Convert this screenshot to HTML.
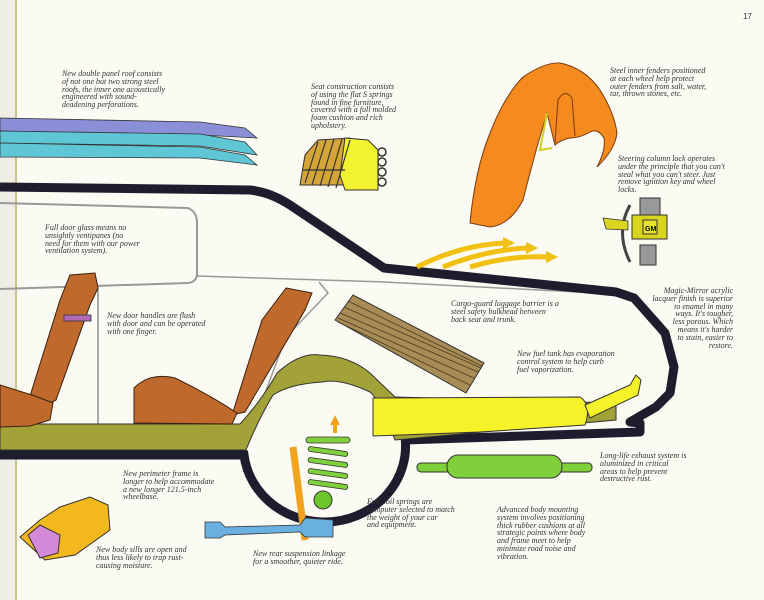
<!DOCTYPE html>
<html><head><meta charset="utf-8"><style>
html,body{margin:0;padding:0;background:#fbfaf3;}
#c{position:relative;width:764px;height:600px;overflow:hidden;background:#fbfaf3;}
.t{position:absolute;font-family:"Liberation Serif",serif;font-style:italic;font-size:8px;line-height:7.8px;color:#333;white-space:nowrap;}
.r{text-align:right;}
</style></head><body><div id="c">
<svg width="764" height="600" style="position:absolute;left:0;top:0">
<rect x="0" y="0" width="15" height="600" fill="#efeee6"/>
<line x1="16" y1="0" x2="16" y2="600" stroke="#c9c48a" stroke-width="2"/>
<polygon points="0,118 200,122 245,128 257,138 200,135 0,131" fill="#8a8fd8" stroke="#333" stroke-width="0.8"/>
<polygon points="0,131 200,134 245,142 257,155 200,146 0,143" fill="#5fc6d6" stroke="#333" stroke-width="0.8"/>
<polygon points="0,143 200,147 245,155 257,165 200,158 0,157" fill="#5fc6d6" stroke="#333" stroke-width="0.8"/>
<polygon points="300,185 305,155 318,140 350,138 352,185" fill="#d4a63a" stroke="#333" stroke-width="1"/>
<polygon points="345,138 368,140 378,150 378,190 345,190 340,175" fill="#f2f230" stroke="#333" stroke-width="1"/>
<g stroke="#333" stroke-width="1.2"><line x1="305" y1="183" x2="318" y2="142"/><line x1="312" y1="185" x2="326" y2="140"/><line x1="320" y1="186" x2="334" y2="139"/><line x1="328" y1="187" x2="342" y2="139"/><line x1="336" y1="188" x2="350" y2="140"/><line x1="303" y1="170" x2="345" y2="170"/></g>
<g fill="none" stroke="#333" stroke-width="1.5"><circle cx="382" cy="152" r="4"/><circle cx="382" cy="162" r="4"/><circle cx="382" cy="172" r="4"/><circle cx="382" cy="182" r="4"/></g>
<path d="M0,203 L188,208 Q197,212 197,222 L197,275 Q196,282 188,283 L0,289" fill="none" stroke="#999" stroke-width="2"/>
<path d="M197,276 L384,282 L616,294" fill="none" stroke="#999" stroke-width="1.5"/>
<path d="M319,282 L328,293 L286,337 L252,428" fill="none" stroke="#999" stroke-width="1.5"/>
<line x1="98" y1="287" x2="98" y2="437" stroke="#333" stroke-width="0.8"/>
<path d="M0,187 L250,190 Q270,192 290,205 L384,268 L616,292 L634,298 L665,333 L674,367 L670,393 L656,407 L630,422 L640,423 L640,432 L405,440" fill="none" stroke="#1d1d2e" stroke-width="9" stroke-linejoin="round"/>
<path d="M0,455 L244,455 A80,75 0 0,0 405,437" fill="none" stroke="#1d1d2e" stroke-width="9"/>
<path d="M0,424 L240,424 Q262,400 277,373 Q300,352 320,355 Q350,356 370,373 L395,397 L616,403 L616,420 L395,440 Q380,400 370,392 Q340,378 322,382 Q290,384 273,395 Q258,420 246,450 L0,450 Z" fill="#a3a238" stroke="#333" stroke-width="1"/>
<polygon points="70,275 95,273 98,288 90,305 56,400 45,406 30,396 60,300" fill="#bf6a2c" stroke="#3a2010" stroke-width="1"/>
<polygon points="0,385 35,396 53,403 50,420 30,426 0,427" fill="#bf6a2c" stroke="#3a2010" stroke-width="1"/>
<rect x="64" y="315" width="27" height="6" fill="#b06ab8" stroke="#333" stroke-width="0.8"/>
<polygon points="286,288 312,293 305,310 245,412 232,415 262,320" fill="#bf6a2c" stroke="#3a2010" stroke-width="1"/>
<path d="M134,423 L134,388 Q150,372 175,378 Q210,395 237,413 L232,424 Z" fill="#bf6a2c" stroke="#3a2010" stroke-width="1"/>
<polygon points="335,320 353,295 484,363 466,393" fill="#a88c55" stroke="#333" stroke-width="1"/>
<g stroke="#4a3a20" stroke-width="0.8"><line x1="340" y1="313" x2="478" y2="372"/><line x1="344" y1="307" x2="481" y2="368"/><line x1="348" y1="301" x2="482" y2="366"/><line x1="338" y1="318" x2="474" y2="378"/><line x1="338" y1="322" x2="470" y2="385"/></g>
<path d="M373,398 L580,397 Q592,405 585,425 L480,432 L373,436 Z" fill="#f5f22a" stroke="#333" stroke-width="1"/>
<path d="M585,405 L630,385 L636,375 L641,380 L638,395 L590,418 Z" fill="#f5f22a" stroke="#333" stroke-width="1"/>
<path d="M470,223 Q475,170 490,133 Q505,95 523,77 Q545,62 560,63 Q585,68 600,90 Q614,112 617,133 Q615,150 597,167 Q606,150 604,138 Q598,128 590,132 Q580,138 570,138 Q560,140 555,145 L547,113 L537,147 L530,173 L523,200 Q510,225 490,227 Z" fill="#f58a1e" stroke="#7a3a10" stroke-width="1"/>
<path d="M555,143 L558,100 Q565,88 572,98 L575,136" fill="none" stroke="#7a3a10" stroke-width="1"/>
<path d="M547,113 L540,150 L552,148" fill="none" stroke="#d0d020" stroke-width="2"/>
<g fill="none" stroke="#f2c010" stroke-width="5"><path d="M417,267 Q460,245 505,243"/><path d="M443,267 Q485,250 528,248"/><path d="M470,267 Q510,255 548,257"/></g>
<g fill="#f2c010"><polygon points="503,237 515,243 503,249"/><polygon points="526,242 538,248 526,254"/><polygon points="546,251 558,257 546,263"/></g>
<path d="M630,205 Q615,232 630,262" fill="none" stroke="#444" stroke-width="3"/>
<rect x="640" y="198" width="20" height="17" fill="#999" stroke="#333"/>
<rect x="632" y="215" width="35" height="24" fill="#d9d41e" stroke="#333"/>
<rect x="643" y="220" width="14" height="14" fill="#e6e230" stroke="#333"/>
<text x="645" y="231" font-size="7" font-family="Liberation Sans" font-weight="bold">GM</text>
<rect x="640" y="245" width="16" height="20" fill="#999" stroke="#333"/>
<polygon points="603,218 628,221 628,230 606,229" fill="#d9d41e" stroke="#333" stroke-width="0.8"/>
<polygon points="330,425 335,415 340,425 337,425 337,433 333,433 333,425" fill="#f5a31e"/>
<g stroke="#333" stroke-width="0.8" fill="#7fd03a"><rect x="306" y="437" width="44" height="6" rx="3"/><rect x="308" y="449" width="40" height="5" rx="2.5" transform="rotate(8 328 451)"/><rect x="308" y="460" width="40" height="5" rx="2.5" transform="rotate(8 328 462)"/><rect x="308" y="471" width="40" height="5" rx="2.5" transform="rotate(8 328 473)"/><rect x="308" y="482" width="40" height="5" rx="2.5" transform="rotate(8 328 484)"/></g>
<circle cx="323" cy="500" r="9" fill="#6cc52a" stroke="#333"/>
<line x1="293" y1="447" x2="305" y2="540" stroke="#f2a31e" stroke-width="7"/>
<path d="M205,522 L220,522 L225,527 L300,525 L305,518 L333,520 L333,537 L305,537 L300,532 L225,535 L220,538 L205,538 Z" fill="#6ab0e0" stroke="#333" stroke-width="0.8"/>
<rect x="417" y="463" width="175" height="9" rx="4" fill="#7fd03a" stroke="#333"/>
<rect x="447" y="455" width="115" height="23" rx="11" fill="#7fd03a" stroke="#333"/>
<polygon points="20,537 40,520 60,507 90,497 108,505 110,530 75,555 45,560" fill="#f2b81e" stroke="#333"/>
<polygon points="28,535 40,525 60,535 58,553 40,558" fill="#d48ad8" stroke="#333"/>
</svg>
<div class="t" style="left:743px;top:13px;font-family:'Liberation Sans',sans-serif;font-style:normal;">17</div>
<div class="t" style="left:62px;top:70px">New double panel roof consists<br>of not one but two strong steel<br>roofs, the inner one acoustically<br>engineered with sound-<br>deadening perforations.</div>
<div class="t" style="left:311px;top:83px">Seat construction consists<br>of using the flat S springs<br>found in fine furniture,<br>covered with a full molded<br>foam cushion and rich<br>upholstery.</div>
<div class="t" style="left:610px;top:67px">Steel inner fenders positioned<br>at each wheel help protect<br>outer fenders from salt, water,<br>tar, thrown stones, etc.</div>
<div class="t" style="left:618px;top:155px">Steering column lock operates<br>under the principle that you can't<br>steal what you can't steer. Just<br>remove ignition key and wheel<br>locks.</div>
<div class="t" style="left:45px;top:224px">Full door glass means no<br>unsightly ventipanes (no<br>need for them with our power<br>ventilation system).</div>
<div class="t" style="left:107px;top:312px">New door handles are flush<br>with door and can be operated<br>with one finger.</div>
<div class="t" style="left:451px;top:300px">Cargo-guard luggage barrier is a<br>steel safety bulkhead between<br>back seat and trunk.</div>
<div class="t r" style="right:31px;top:287px">Magic-Mirror acrylic<br>lacquer finish is superior<br>to enamel in many<br>ways. It's tougher,<br>less porous. Which<br>means it's harder<br>to stain, easier to<br>restore.</div>
<div class="t" style="left:517px;top:350px">New fuel tank has evaporation<br>control system to help curb<br>fuel vaporization.</div>
<div class="t" style="left:600px;top:452px">Long-life exhaust system is<br>aluminized in critical<br>areas to help prevent<br>destructive rust.</div>
<div class="t" style="left:123px;top:470px">New perimeter frame is<br>longer to help accommodate<br>a new longer 121.5-inch<br>wheelbase.</div>
<div class="t" style="left:367px;top:498px">Full coil springs are<br>computer selected to match<br>the weight of your car<br>and equipment.</div>
<div class="t" style="left:497px;top:506px">Advanced body mounting<br>system involves positioning<br>thick rubber cushions at all<br>strategic points where body<br>and frame meet to help<br>minimize road noise and<br>vibration.</div>
<div class="t" style="left:96px;top:546px">New body sills are open and<br>thus less likely to trap rust-<br>causing moisture.</div>
<div class="t" style="left:253px;top:550px">New rear suspension linkage<br>for a smoother, quieter ride.</div>
</div></body></html>
